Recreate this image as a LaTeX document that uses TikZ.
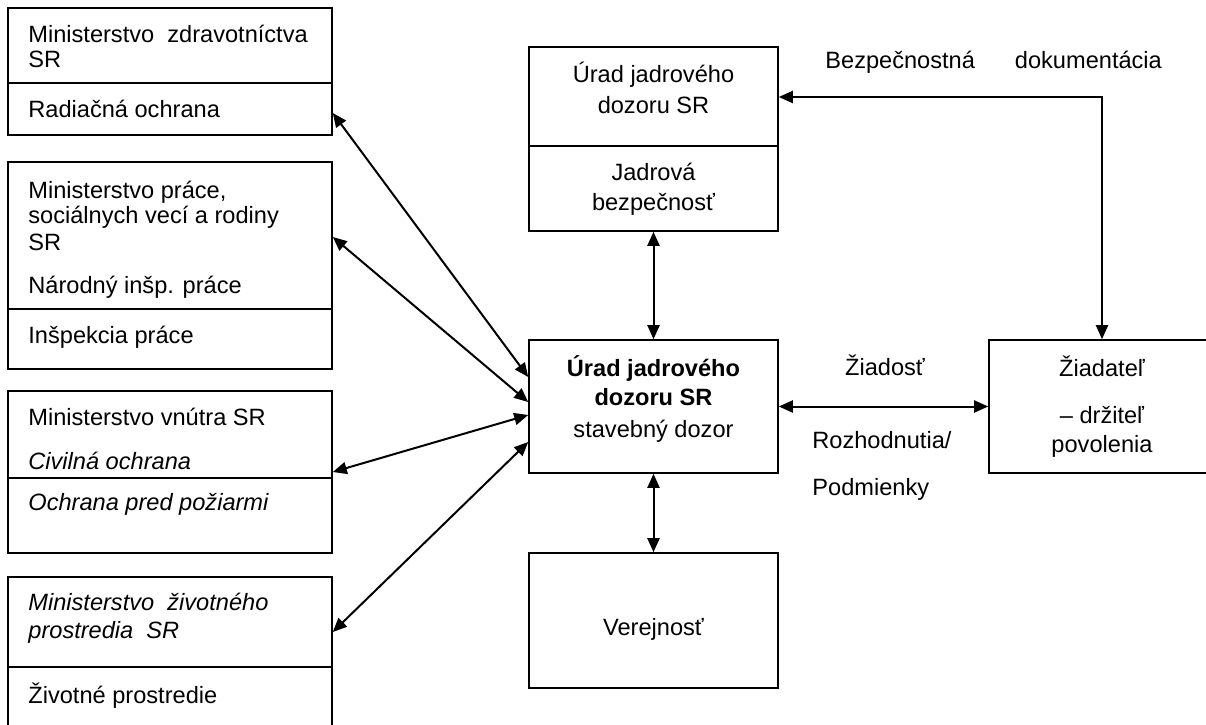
\documentclass[tikz,border=0pt]{standalone}
\usepackage{fontspec}
\setmainfont{Liberation Sans}
\usetikzlibrary{arrows.meta,calc,fit}
\begin{document}
\begin{tikzpicture}[x=0.5pt,y=-0.5pt,
  every node/.append style={font=\fontsize{11.8pt}{14pt}\selectfont},
  box/.style={draw, line width=0.8pt, inner sep=0pt},
  divider/.style={line width=0.8pt},
  lbl/.style={anchor=base west, inner sep=0pt},
  ctr/.style={anchor=base, inner sep=0pt},
  arr/.style={{Triangle[length=7pt,width=6pt]}-{Triangle[length=7pt,width=6pt]}, line width=1pt}]
\useasboundingbox (0,0) rectangle (1206,724);
\clip (0,0) rectangle (1206,724);
% left column boxes
\node[box, fit={(8,8)(332,135)}] (m1) {};
\node[box, fit={(8,162)(332,369)}] (m2) {};
\node[box, fit={(8,391)(332,553)}] (m3) {};
\node[box, fit={(8,577)(332,740)}] (m4) {};
\draw[divider] (m1.west |- 0,83) -- (m1.east |- 0,83);
\draw[divider] (m2.west |- 0,309) -- (m2.east |- 0,309);
\draw[divider] (m3.west |- 0,478) -- (m3.east |- 0,478);
\draw[divider] (m4.west |- 0,667) -- (m4.east |- 0,667);
% centre column
\node[box, fit={(529,47)(778,231)}] (u) {};
\draw[divider] (u.west |- 0,146) -- (u.east |- 0,146);
\node[box, fit={(529,340)(778,473)}] (c) {};
\node[box, fit={(529,553)(778,688)}] (v) {};
\node[box, fit={(989,340)(1215,473)}] (z) {};
% left texts
\node[lbl] (t1) at (28,42) {Ministerstvo~~zdravotníctva};
\node[lbl] (t2) at (28,67) {SR};
\node[lbl] (t3) at (28,117) {Radiačná ochrana};
\node[lbl] (t4) at (28,198) {Ministerstvo práce,};
\node[lbl] (t5) at (28,223) {sociálnych vecí a rodiny};
\node[lbl] (t6) at (28,250) {SR};
\node[lbl] (t7) at (28,293) {Národný inšp. práce};
\node[lbl] (t8) at (28,343) {Inšpekcia práce};
\node[lbl] (t9) at (28,425) {Ministerstvo vnútra SR};
\node[lbl] (t10) at (28,469) {\itshape Civilná ochrana};
\node[lbl] (t11) at (28,510) {\itshape Ochrana pred požiarmi};
\node[lbl] (t12) at (28,610) {\itshape Ministerstvo~~životného};
\node[lbl] (t13) at (28,638) {\itshape prostredia~~SR};
\node[lbl] (t14) at (28,703) {Životné prostredie};
% centre texts
\node[ctr] (u1) at (653.5,82) {Úrad jadrového};
\node[ctr] (u2) at (653.5,113) {dozoru SR};
\node[ctr] (u3) at (653.5,180) {Jadrová};
\node[ctr] (u4) at (653.5,210) {bezpečnosť};
\node[ctr] (c1) at (653.5,376) {\bfseries Úrad jadrového};
\node[ctr] (c2) at (653.5,405) {\bfseries dozoru SR};
\node[ctr] (c3) at (653.5,437) {stavebný dozor};
\node[ctr] (v1) at (653.5,635) {Verejnosť};
\node[ctr] (z1) at (1102,376) {Žiadateľ};
\node[ctr] (z2) at (1102,423) {– držiteľ};
\node[ctr] (z3) at (1102,452) {povolenia};
% connector labels
\node[ctr] (l1) at (885,375) {Žiadosť};
\node[lbl] (l2) at (812,448) {Rozhodnutia/};
\node[lbl] (l3) at (812,495) {Podmienky};
\node[lbl] (l4) at (825,68) {Bezpečnostná\hspace{20pt}dokumentácia};
% connectors
\draw[arr] ($(m1.east)+(0,41.5)$) -- ($(c.west)+(0,-29.5)$);
\draw[arr] ($(m2.east)+(0,-28.5)$) -- ($(c.west)+(0,-4.5)$);
\draw[arr] (m3.east) -- ($(c.west)+(0,8.5)$);
\draw[arr] ($(m4.east)+(0,-26.5)$) -- ($(c.west)+(0,35.5)$);
\draw[arr] (u.south) -- (c.north);
\draw[arr] (c.south) -- (v.north);
\draw[arr] (c.east) -- (c.east -| z.west);
\draw[arr] ($(u.east)+(0,-42)$) -| (z.north);
\end{tikzpicture}
\end{document}
